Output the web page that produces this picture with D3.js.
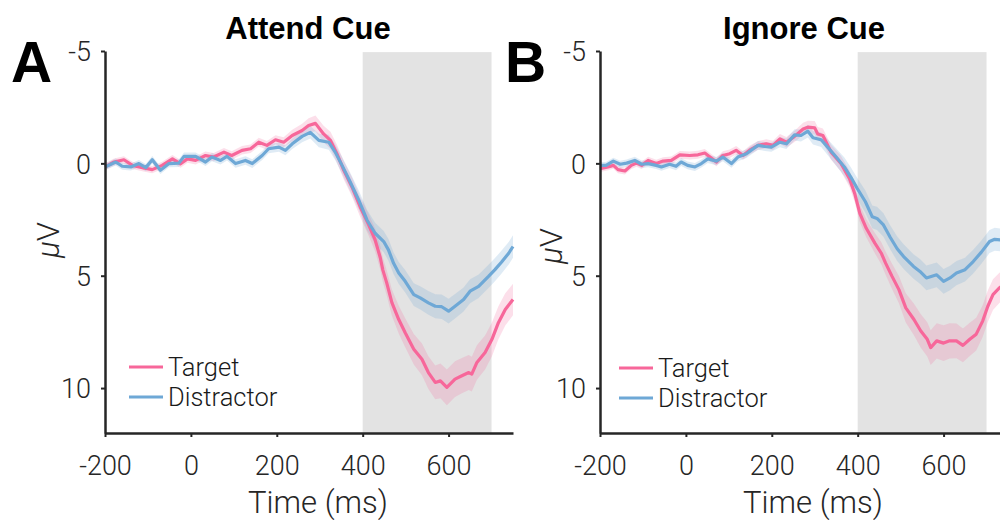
<!DOCTYPE html>
<html><head><meta charset="utf-8">
<script src="https://cdn.jsdelivr.net/npm/d3@7"></script>
<style>body{margin:0;background:#fff}svg{display:block}</style>
</head><body>
<svg id="c" width="1000" height="520"></svg>
<script>
// ---------- data ----------
const xTicks = [-200, 0, 200, 400, 600];
const yTicks = [-5, 0, 5, 10];
const seriesNames = ["Target", "Distractor"];
const panelTitles = ["Attend Cue", "Ignore Cue"];
const panelLetters = ["A", "B"];
const shadeWindow = [400, 700];

const attendTarget = [[-200,0.16],[-179,-0.06],[-156,-0.16],[-136,0.09],[-113,0.19],[-90,0.28],[-67,0.09],[-43,-0.2],[-24,0.02],[-8,-0.2],[11,-0.13],[34,-0.35],[53,-0.28],[77,-0.5],[95,-0.35],[119,-0.58],[139,-0.65],[158,-0.94],[177,-0.8],[197,-1.05],[216,-0.94],[236,-1.24],[259,-1.46],[274,-1.68],[290,-1.78],[309,-1.31],[325,-1.02],[340,-0.43],[356,0.31],[375,1.05],[394,1.93],[414,2.74],[429,3.41],[441,4.2],[447,4.75],[456,5.32],[468,6.2],[484,6.95],[499,7.54],[519,8.27],[538,8.72],[553,9.31],[569,9.75],[581,9.68],[596,9.97],[615,9.6],[631,9.45],[647,9.31],[654,9.38],[666,8.86],[685,8.42],[701,7.83],[716,7.09],[732,6.5],[750,6.06]];
const attendDistractor = [[-200,0.16],[-175,-0.06],[-160,0.13],[-140,0.16],[-121,0.01],[-105,0.19],[-90,-0.16],[-71,0.31],[-51,0.01],[-28,-0.01],[-16,-0.31],[11,-0.31],[34,-0.06],[49,-0.28],[69,-0.13],[84,-0.31],[104,0.01],[127,-0.13],[143,0.01],[166,-0.35],[181,-0.65],[205,-0.72],[220,-0.58],[236,-0.87],[259,-1.2],[278,-1.38],[298,-1.02],[321,-0.94],[336,-0.5],[352,0.09],[371,0.83],[391,1.64],[410,2.52],[429,3.11],[449,3.48],[460,3.85],[472,4.45],[484,4.88],[499,5.25],[519,5.84],[534,5.99],[553,6.21],[569,6.36],[584,6.38],[600,6.58],[615,6.36],[635,6.06],[650,5.69],[670,5.47],[693,5.03],[708,4.73],[723,4.4],[740,4.0],[750,3.7]];
const ignoreTarget = [[-200,0.24],[-181,0.16],[-169,0.09],[-158,0.28],[-142,0.34],[-127,0.09],[-115,-0.01],[-103,0.09],[-88,-0.13],[-69,0.01],[-53,-0.1],[-34,-0.13],[-14,-0.38],[9,-0.35],[28,-0.38],[44,-0.46],[56,-0.28],[71,-0.06],[86,-0.35],[102,-0.43],[117,-0.58],[133,-0.35],[149,-0.6],[168,-0.8],[187,-0.87],[203,-0.8],[219,-1.09],[234,-0.94],[253,-1.2],[273,-1.53],[284,-1.61],[300,-1.58],[307,-1.31],[319,-1.24],[338,-0.5],[361,0.01],[381,0.68],[393,1.34],[405,2.23],[420,2.89],[440,3.55],[455,4.0],[465,4.44],[480,5.03],[496,5.62],[512,6.43],[531,6.95],[547,7.46],[562,7.83],[570,8.2],[584,7.9],[600,8.0],[614,7.9],[630,7.9],[645,8.1],[661,7.83],[676,7.6],[691,7.02],[703,6.36],[715,5.84],[730,5.54],[750,5.3]];
const ignoreDistractor = [[-200,0.09],[-186,0.09],[-169,-0.1],[-153,0.04],[-138,-0.01],[-119,-0.13],[-103,0.04],[-88,0.01],[-69,0.09],[-57,0.16],[-38,0.04],[-23,0.13],[-11,-0.06],[4,0.09],[21,0.16],[36,0.01],[51,-0.2],[71,-0.1],[86,-0.28],[106,0.01],[121,-0.28],[141,-0.43],[153,-0.6],[168,-0.8],[184,-0.75],[199,-0.72],[219,-0.94],[234,-0.87],[253,-1.27],[268,-1.24],[284,-1.43],[296,-1.14],[315,-1.05],[330,-0.72],[350,-0.28],[369,0.16],[384,0.61],[399,1.12],[418,1.71],[434,2.38],[445,2.45],[460,2.74],[476,3.3],[492,3.8],[507,4.15],[530,4.59],[545,4.81],[560,5.1],[584,4.96],[600,5.25],[615,5.1],[630,4.88],[650,4.73],[669,4.37],[688,3.95],[707,3.48],[719,3.38],[735,3.41],[750,3.4]];

// standard-error half widths (µV) read at a few times
const attendTargetSem = [[-200,0.15],[200,0.2],[290,0.35],[400,0.45],[500,0.65],[600,0.8],[700,0.75],[750,0.7]];
const attendDistractorSem = [[-200,0.15],[200,0.2],[300,0.3],[400,0.45],[500,0.5],[600,0.55],[750,0.5]];
const ignoreTargetSem = [[-200,0.15],[200,0.2],[300,0.3],[420,0.4],[550,0.75],[600,0.8],[700,0.7],[750,0.65]];
const ignoreDistractorSem = [[-200,0.15],[200,0.2],[300,0.3],[420,0.5],[500,0.55],[600,0.55],[750,0.5]];

// ---------- layout / style ----------
const colors = ["#f7679a", "#6ea8d6"];
const bandColors = ["rgba(240,110,160,0.22)", "rgba(120,170,215,0.24)"];
const axisColor = "#262626";
const lightFont = "Roboto, 'Liberation Sans', Arial, sans-serif";
const boldFont = "'Liberation Sans', Arial, Helvetica, sans-serif";

const panels = [
  {left:105, right:513, title:panelTitles[0], letter:panelLetters[0], titleX:308, letterX:11,
   series:[attendTarget, attendDistractor], sems:[attendTargetSem, attendDistractorSem],
   legendX:129, legendY:[367,397], ylabelX:59, ylabelY:240},
  {left:600, right:1008, title:panelTitles[1], letter:panelLetters[1], titleX:804, letterX:505,
   series:[ignoreTarget, ignoreDistractor], sems:[ignoreTargetSem, ignoreDistractorSem],
   legendX:619, legendY:[368,398], ylabelX:562, ylabelY:246}
];
const plotTop = 51, plotBottom = 433;

const svg = d3.select("#c");

panels.forEach(p => {
  const x = d3.scaleLinear().domain([-200, 750]).range([p.left, p.right]);
  const y = d3.scaleLinear().domain([-5, 12]).range([plotTop, plotBottom]);
  const g = svg.append("g");

  // shaded window
  g.append("rect")
    .attr("x", x(shadeWindow[0])).attr("width", x(shadeWindow[1]) - x(shadeWindow[0]))
    .attr("y", y(-4.95)).attr("height", y(12) - y(-4.95))
    .attr("fill", "#e3e3e3");

  // bands
  p.series.forEach((s, i) => {
    const semScale = d3.scaleLinear().domain(p.sems[i].map(d => d[0])).range(p.sems[i].map(d => d[1]));
    const area = d3.area().x(d => x(d[0])).y0(d => y(d[1] - semScale(d[0]))).y1(d => y(d[1] + semScale(d[0])));
    g.append("path").datum(s).attr("d", area).attr("fill", bandColors[i]);
  });
  // lines
  p.series.forEach((s, i) => {
    const line = d3.line().x(d => x(d[0])).y(d => y(d[1]));
    g.append("path").datum(s).attr("d", line).attr("fill", "none")
      .attr("stroke", colors[i]).attr("stroke-width", 3.2).attr("stroke-linejoin", "round");
  });

  // axes
  const fmt = d => String(d);
  const xa = g.append("g").attr("transform", `translate(0,${plotBottom})`)
    .call(d3.axisBottom(x).tickValues(xTicks).tickSize(4).tickSizeOuter(0).tickFormat(fmt));
  xa.selectAll("text").attr("y", 42).attr("dy", null)
    .style("font-family", lightFont).style("font-weight", 300).style("font-size", "27px").attr("fill", axisColor);
  const ya = g.append("g").attr("transform", `translate(${p.left},0)`)
    .call(d3.axisLeft(y).tickValues(yTicks).tickSize(4).tickSizeOuter(0).tickFormat(fmt));
  ya.selectAll("text").attr("x", -14).attr("dy", "0.36em")
    .style("font-family", lightFont).style("font-weight", 300).style("font-size", "27px").attr("fill", axisColor);
  [xa, ya].forEach(a => {
    a.select(".domain").attr("stroke", axisColor).attr("stroke-width", 2.5);
    a.selectAll(".tick line").attr("stroke", axisColor).attr("stroke-width", 2);
  });

  // axis labels
  g.append("text").attr("x", (p.left + p.right) / 2 + 9).attr("y", 513)
    .attr("text-anchor", "middle").attr("fill", axisColor)
    .style("font-family", lightFont).style("font-weight", 300).style("font-size", "31px")
    .text("Time (ms)");
  const yl = g.append("text").attr("transform", `translate(${p.ylabelX},${p.ylabelY}) rotate(-90)`)
    .attr("text-anchor", "middle").attr("fill", axisColor)
    .style("font-family", lightFont).style("font-weight", 300).style("font-size", "31px");
  yl.append("tspan").style("font-style", "italic").text("μ");
  yl.append("tspan").text("V");

  // title and panel letter
  g.append("text").attr("x", p.titleX).attr("y", 39).attr("text-anchor", "middle")
    .style("font-family", boldFont).style("font-weight", 700).style("font-size", "31px").text(p.title);
  g.append("text").attr("x", p.letterX).attr("y", 82)
    .style("font-family", boldFont).style("font-weight", 700).style("font-size", "57px").text(p.letter);

  // legend
  seriesNames.forEach((name, i) => {
    const ly = p.legendY[i];
    g.append("line").attr("x1", p.legendX).attr("x2", p.legendX + 34).attr("y1", ly).attr("y2", ly)
      .attr("stroke", colors[i]).attr("stroke-width", 3);
    g.append("text").attr("x", p.legendX + 39).attr("y", ly + 9).attr("fill", "#1a1a1a")
      .style("font-family", lightFont).style("font-weight", 300).style("font-size", "25.5px").text(name);
  });
});
</script>
</body></html>
